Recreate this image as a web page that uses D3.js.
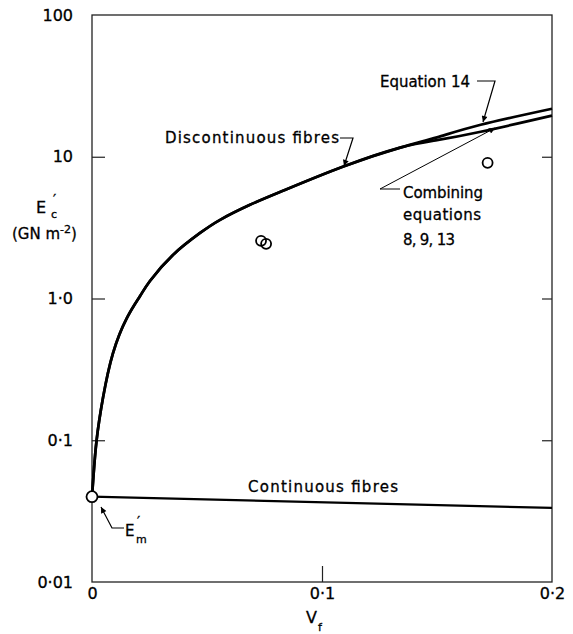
<!DOCTYPE html>
<html>
<head>
    <title>E'c versus Vf</title>
    <script src="https://d3js.org/d3.v7.min.js"></script>
    <style>
        body { margin: 0; background: #fff; }
        text { font-family: "DejaVu Sans", sans-serif; fill: #000; }
    </style>
</head>
<body>
    <div id="chart"></div>

    <script>
        // discontinuous fibres (shared part), then the two branches near the top
        const discV = [0, 0.0006, 0.002, 0.0048, 0.0091, 0.0152, 0.0209, 0.0252, 0.0352, 0.047, 0.0557, 0.0687, 0.083, 0.109, 0.134];
        const discE = [0.04, 0.055, 0.1, 0.2, 0.41, 0.73, 1.04, 1.33, 2.03, 2.9, 3.59, 4.58, 5.75, 8.5, 11.6];
        const eq14V = [0.15, 0.169, 0.2];
        const eq14E = [13.7, 16.8, 21.8];
        const combV = [0.15, 0.169, 0.2];
        const combE = [13.1, 15.0, 19.5];

        const contV = [0, 0.2];
        const contE = [0.04, 0.0333];

        const pointV = [0.0735, 0.0757, 0.172];
        const pointE = [2.55, 2.43, 9.06];

        const yTicks = [0.01, 0.1, 1, 10, 100];
        const yTickLabels = ["0·01", "0·1", "1·0", "10", "100"];
        const xTicks = [0, 0.1, 0.2];
        const xTickLabels = ["0", "0·1", "0·2"];

        const margin = { top: 15, right: 21, bottom: 52, left: 92 };
        const width = 573 - margin.left - margin.right;
        const height = 634 - margin.top - margin.bottom;

        const root = d3.select("#chart").append("svg")
            .attr("width", 573)
            .attr("height", 634);

        const defs = root.append("defs");
        defs.append("marker")
            .attr("id", "arrow")
            .attr("viewBox", "0 0 10 10")
            .attr("refX", 10).attr("refY", 5)
            .attr("markerWidth", 11).attr("markerHeight", 6)
            .attr("markerUnits", "userSpaceOnUse")
            .attr("orient", "auto")
            .append("path")
            .attr("d", "M0,0 L10,5 L0,10 z")
            .attr("fill", "#000");

        const svg = root.append("g")
            .attr("transform", "translate(" + margin.left + "," + margin.top + ")");

        const x = d3.scaleLinear().domain([0, 0.2]).range([0, width]);
        const y = d3.scaleLog().domain([0.01, 100]).range([height, 0]);

        // frame
        svg.append("rect")
            .attr("width", width).attr("height", height)
            .attr("fill", "none").attr("stroke", "#222").attr("stroke-width", 1.3);

        const left = svg.append("g")
            .call(d3.axisLeft(y).tickValues(yTicks).tickSize(-13).tickPadding(19)
                .tickFormat((d, i) => yTickLabels[i]));
        const right = svg.append("g")
            .attr("transform", "translate(" + width + ",0)")
            .call(d3.axisRight(y).tickValues([0.1, 1, 10]).tickSize(-10).tickFormat(""));
        const bottom = svg.append("g")
            .attr("transform", "translate(0," + height + ")")
            .call(d3.axisBottom(x).tickValues(xTicks).tickSize(-16).tickPadding(6)
                .tickFormat((d, i) => xTickLabels[i]));

        [left, right, bottom].forEach(g => {
            g.select(".domain").remove();
            g.selectAll("line").attr("stroke", "#222").attr("stroke-width", 1.2);
            g.selectAll("text").attr("font-size", 16).attr("font-family", "DejaVu Sans")
                .attr("fill", "#000").attr("stroke", "#000").attr("stroke-width", 0.3);
        });
        left.selectAll(".tick").filter(d => d === 100 || d === 0.01).select("line").remove();
        bottom.selectAll(".tick").filter(d => d !== 0.1).select("line").remove();

        const line = d3.line()
            .x(d => x(d[0]))
            .y(d => y(d[1]))
            .curve(d3.curveNatural);

        const disc = discV.map((v, i) => [v, discE[i]]);
        const eq14 = disc.concat(eq14V.map((v, i) => [v, eq14E[i]]));
        const comb = disc.concat(combV.map((v, i) => [v, combE[i]]));
        const cont = contV.map((v, i) => [v, contE[i]]);

        [eq14, comb].forEach(d => {
            svg.append("path")
                .datum(d)
                .attr("d", line)
                .attr("fill", "none")
                .attr("stroke", "#000")
                .attr("stroke-width", 2.7);
        });
        svg.append("path")
            .datum(cont)
            .attr("d", line)
            .attr("fill", "none")
            .attr("stroke", "#000")
            .attr("stroke-width", 2.2);

        // experimental points
        svg.selectAll(".pt")
            .data(pointV)
            .enter()
            .append("circle")
            .attr("class", "pt")
            .attr("cx", d => x(d))
            .attr("cy", (d, i) => y(pointE[i]))
            .attr("r", 5)
            .attr("fill", "none")
            .attr("stroke", "#000")
            .attr("stroke-width", 1.8);

        // E'm point
        svg.append("circle")
            .attr("cx", x(0)).attr("cy", y(contE[0]))
            .attr("r", 5.5)
            .attr("fill", "#fff").attr("stroke", "#000").attr("stroke-width", 1.8);

        // labels and leaders
        const ann = svg.append("g").attr("font-size", 15)
            .attr("stroke", "#000").attr("stroke-width", 0.3);

        function label(tx, ty, s, len) {
            return ann.append("text").attr("x", tx).attr("y", ty)
                .attr("textLength", len).attr("lengthAdjust", "spacing").text(s);
        }
        function leader(d, w) {
            ann.append("path")
                .attr("d", d)
                .attr("fill", "none").attr("stroke", "#000").attr("stroke-width", w)
                .attr("marker-end", "url(#arrow)");
        }

        label(73, 128, "Discontinuous fibres", 174);
        leader("M248,123 L261,123 L252,151", 1.2);

        label(288, 72, "Equation 14", 90);
        leader("M385,66 L403,66 L391,107", 1.2);

        label(311, 183, "Combining", 80);
        label(311, 205, "equations", 78);
        label(311, 230, "8, 9, 13", 52);
        leader("M308,174 L288,174 L403,113", 1);

        label(156, 477, "Continuous fibres", 150);

        leader("M32,513 L20,513 L9,492", 1.2);
        ann.append("text").attr("x", 33).attr("y", 521).text("E");
        ann.append("text").attr("x", 45).attr("y", 511).attr("font-size", 14).text("′");
        ann.append("text").attr("x", 44).attr("y", 528).attr("font-size", 11).text("m");

        // axis titles
        const titles = root.append("g").attr("stroke", "#000").attr("stroke-width", 0.3);
        titles.append("text").attr("x", 36).attr("y", 213).attr("font-size", 16).text("E");
        titles.append("text").attr("x", 53).attr("y", 204).attr("font-size", 14).text("′");
        titles.append("text").attr("x", 51).attr("y", 218).attr("font-size", 11).text("c");

        const yu = titles.append("text").attr("x", 12).attr("y", 239).attr("font-size", 15);
        yu.append("tspan").text("(GN m");
        yu.append("tspan").attr("dy", -6).attr("font-size", 11).text("-2");
        yu.append("tspan").attr("dy", 6).text(")");

        titles.append("text").attr("x", 306).attr("y", 623).attr("font-size", 16).text("V");
        titles.append("text").attr("x", 318).attr("y", 631).attr("font-size", 11).text("f");
    </script>
</body>
</html>
